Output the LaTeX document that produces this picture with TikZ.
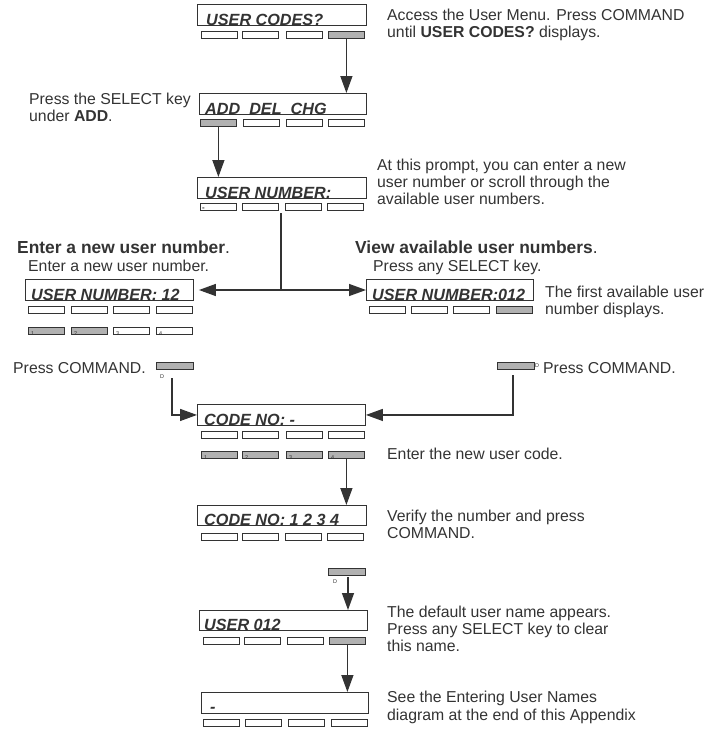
\documentclass[tikz,border=0pt]{standalone}
\usepackage{fontspec}
\setmainfont{Liberation Sans}
\usetikzlibrary{arrows.meta}
\definecolor{ink}{HTML}{333333}
\newcommand{\bodyf}{\fontsize{15.8}{17}\selectfont}
\newcommand{\headf}{\fontsize{17.4}{19}\selectfont}
\newcommand{\lcdf}{\fontsize{16.2}{18}\selectfont\bfseries\itshape}
\newcommand{\tinyf}{\fontsize{5.5}{5.5}\selectfont}
\tikzset{
  lcd/.style={draw=ink, line width=0.9pt, inner sep=0pt, minimum height=21pt, anchor=north west},
  key/.style={draw=ink, line width=0.8pt, inner sep=0pt, minimum width=36pt, minimum height=7pt, anchor=north west},
  hkey/.style={key, fill=ink!38},
  lcdtext/.style={font=\lcdf, anchor=base west, inner sep=0pt, text=ink},
  body/.style={font=\bodyf, anchor=base west, inner sep=0pt, text=ink},
  head/.style={font=\headf, anchor=base west, inner sep=0pt, text=ink},
  tinytext/.style={font=\tinyf, anchor=base west, inner sep=0pt, text=ink},
  ln/.style={draw=ink, line width=1.4pt},
  arr/.style={ln, -{Triangle[length=17pt,width=12pt]}}
}
\begin{document}
\begin{tikzpicture}[x=1pt,y=-1pt]
\useasboundingbox (0,0) rectangle (719,729);

% ---- box 1 : USER CODES?
\node[lcd, minimum width=169pt] (b1) at (197,4) {};
\node[lcdtext] (b1t) at (206,25) {USER CODES?};
\foreach \x/\s [count=\i] in {201/key,242/key,286/key,328/hkey}
  \node[\s] (b1k\i) at (\x,31) {};
\node[body] (t1a) at (387,20) {Access the User Menu. Press COMMAND};
\node[body] (t1b) at (387,37) {until \textbf{USER CODES?} displays.};

% ---- box 2 : ADD DEL CHG
\node[lcd, minimum width=167pt] (b2) at (199,93) {};
\node[lcdtext] (b2t) at (205,114) {ADD\ \ DEL\ \ CHG};
\foreach \x/\s [count=\i] in {200/hkey,243/key,286/key,328/key}
  \node[\s] (b2k\i) at (\x,119) {};
\node[body] (t2a) at (29,104) {Press the SELECT key};
\node[body] (t2b) at (29,121) {under \textbf{ADD}.};
\draw[arr] (b1k4.south) -- (b1k4.south |- b2.north);

% ---- box 3 : USER NUMBER:
\node[lcd, minimum width=169pt] (b3) at (197,177) {};
\node[lcdtext] (b3t) at (205,198) {USER NUMBER:};
\foreach \x/\s [count=\i] in {200/key,242/key,285/key,327/key}
  \node[\s] (b3k\i) at (\x,203) {};
\node[font=\bfseries\fontsize{8}{8}\selectfont, anchor=base west, inner sep=0pt, text=ink] (b3d) at (202,210) {-};
\node[body] (t3a) at (377,170) {At this prompt, you can enter a new};
\node[body] (t3b) at (377,187) {user number or scroll through the};
\node[body] (t3c) at (377,204) {available user numbers.};
\draw[arr] (b2k1.south) -- (b2k1.south |- b3.north);

% ---- left branch
\node[head] (h1) at (17,253) {\textbf{Enter a new user number}.};
\node[body] (h1b) at (28,271) {Enter a new user number.};
\node[lcd, minimum width=168pt] (lb) at (25,279) {};
\node[lcdtext] (lbt) at (31,300) {USER NUMBER: 12};
\foreach \x [count=\i] in {28,71,113,156}
  \node[key] (lbk\i) at (\x,306) {};
\foreach \x/\s [count=\i] in {28/hkey,71/hkey,113/key,156/key}
  \node[\s] (lbn\i) at (\x,327) {};
\foreach \i in {1,...,4}
  \node[tinytext] (lbd\i) at ([xshift=3pt,yshift=-1pt]lbn\i.south west) {\i};

% ---- right branch
\node[head] (h2) at (355,253) {\textbf{View available user numbers}.};
\node[body] (h2b) at (373,271) {Press any SELECT key.};
\node[lcd, minimum width=167pt] (rb) at (366,279) {};
\node[lcdtext] (rbt) at (372,300) {USER NUMBER:012};
\foreach \x/\s [count=\i] in {369/key,411/key,453/key,496/hkey}
  \node[\s] (rbk\i) at (\x,306) {};
\node[body] (t4a) at (545,297) {The first available user};
\node[body] (t4b) at (545,314) {number displays.};

% ---- split connector
\coordinate (j1) at (281,213);
\coordinate (j2) at (281,290);
\draw[ln] (j1) -- (j2);
\draw[arr, shorten >=5pt] (j2) -- (j2 -| lb.east);
\draw[arr] (j2) -- (j2 -| rb.west);

% ---- COMMAND keys
\node[body] (pc1) at (13,373) {Press COMMAND.};
\node[hkey, minimum width=37pt] (lc) at (156,362) {};
\node[tinytext] (lcD) at (160,378) {D};
\node[body] (pc2) at (543,373) {Press COMMAND.};
\node[hkey, minimum width=37pt] (rc) at (497,362) {};
\node[tinytext, anchor=west] (rcD) at (rc.east) {D};

% ---- box 4 : CODE NO: -
\node[lcd, minimum width=168pt] (b4) at (197,404) {};
\node[lcdtext] (b4t) at (204,425) {CODE NO: -};
\foreach \x [count=\i] in {201,242,286,328}
  \node[key] (b4k\i) at (\x,431) {};
\foreach \x [count=\i] in {201,242,286,328}
  \node[hkey] (b4h\i) at (\x,451) {};
\foreach \i in {1,...,4}
  \node[tinytext] (b4d\i) at ([xshift=3pt,yshift=-1pt]b4h\i.south west) {\i};
\node[body] (t5) at (387,459) {Enter the new user code.};
\coordinate (lcs) at (172,378);
\coordinate (rcs) at (513,375);
\draw[arr] (lcs) |- (b4.west);
\draw[arr] (rcs) |- (b4.east);

% ---- box 5 : CODE NO: 1 2 3 4
\node[lcd, minimum width=169pt, minimum height=20pt] (b5) at (197,505) {};
\node[lcdtext] (b5t) at (204,525) {CODE NO: 1 2 3 4};
\foreach \x [count=\i] in {201,242,285,327}
  \node[key] (b5k\i) at (\x,533) {};
\node[body] (t6a) at (387,521) {Verify the number and press};
\node[body] (t6b) at (387,538) {COMMAND.};
\draw[arr] (b4h4.south) -- (b4h4.south |- b5.north);

% ---- small command key
\node[hkey, minimum width=37pt] (sk) at (328,568) {};
\node[tinytext] (skD) at (333,583) {D};

% ---- box 6 : USER 012
\node[lcd, minimum width=168pt, minimum height=20pt] (b6) at (199,610) {};
\node[lcdtext] (b6t) at (204,630) {USER 012};
\foreach \x/\s [count=\i] in {203/key,244/key,287/key,329/hkey}
  \node[\s] (b6k\i) at (\x,637) {};
\node[body] (t7a) at (387,617) {The default user name appears.};
\node[body] (t7b) at (387,634) {Press any SELECT key to clear};
\node[body] (t7c) at (387,651) {this name.};
\coordinate (sks) at (348,577);
\draw[arr] (sks) -- (sks |- b6.north);

% ---- box 7 : -
\node[lcd, minimum width=167pt] (b7) at (201,692) {};
\node[lcdtext] (b7t) at (210,712) {-};
\foreach \x [count=\i] in {203,245,288,331}
  \node[key] (b7k\i) at (\x,719) {};
\node[body] (t8a) at (387,702) {See the Entering User Names};
\node[body] (t8b) at (387,720) {diagram at the end of this Appendix};
\draw[arr] (b6k4.south) -- (b6k4.south |- b7.north);
\end{tikzpicture}
\end{document}
